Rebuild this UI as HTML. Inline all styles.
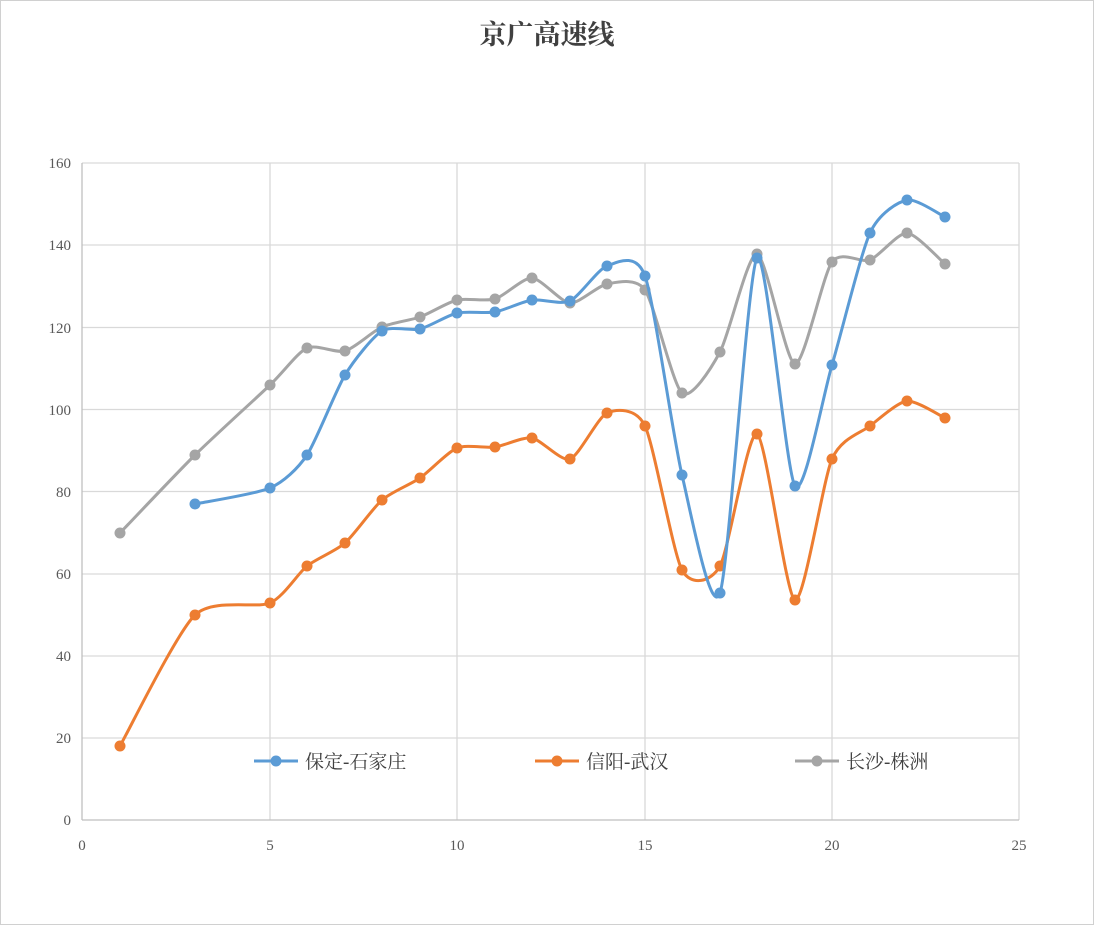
<!DOCTYPE html>
<html><head><meta charset="utf-8"><style>
html,body{margin:0;padding:0;background:#fff}
svg{display:block}
text{font-family:"Liberation Serif","Noto Serif CJK SC","Noto Sans CJK SC",serif}
</style></head><body>
<svg id="s" width="1094" height="925" viewBox="0 0 1094 925" xmlns="http://www.w3.org/2000/svg">
<rect x="0.5" y="0.5" width="1093" height="924" fill="#fff" stroke="#d0d0d0"/>
<text x="547" y="44" text-anchor="middle" font-size="27" font-weight="bold" fill="#404040">京广高速线</text>
<g stroke="#d9d9d9" stroke-width="1.3">
<line x1="82" y1="163" x2="1019" y2="163"/><line x1="82" y1="245" x2="1019" y2="245"/>
<line x1="82" y1="327.5" x2="1019" y2="327.5"/><line x1="82" y1="409.5" x2="1019" y2="409.5"/>
<line x1="82" y1="491.5" x2="1019" y2="491.5"/><line x1="82" y1="574" x2="1019" y2="574"/>
<line x1="82" y1="656" x2="1019" y2="656"/><line x1="82" y1="738" x2="1019" y2="738"/>
<line x1="270" y1="163" x2="270" y2="820"/><line x1="457" y1="163" x2="457" y2="820"/>
<line x1="645" y1="163" x2="645" y2="820"/><line x1="832" y1="163" x2="832" y2="820"/>
<line x1="1019" y1="163" x2="1019" y2="820"/>
</g>
<g stroke="#bfbfbf" stroke-width="1.3"><line x1="82" y1="163" x2="82" y2="820"/><line x1="82" y1="820" x2="1019" y2="820"/></g>
<g font-size="15" fill="#595959" text-anchor="end">
<text x="71" y="168">160</text><text x="71" y="250">140</text><text x="71" y="333">120</text>
<text x="71" y="415">100</text><text x="71" y="497">80</text><text x="71" y="579">60</text>
<text x="71" y="661">40</text><text x="71" y="743">20</text><text x="71" y="825">0</text>
</g>
<g font-size="15" fill="#595959" text-anchor="middle">
<text x="82" y="850">0</text><text x="270" y="850">5</text><text x="457" y="850">10</text>
<text x="645" y="850">15</text><text x="832" y="850">20</text><text x="1019" y="850">25</text>
</g>
<g id="series"></g>
<g font-size="19" fill="#404040">
<line x1="254" y1="761" x2="298" y2="761" stroke="#5b9bd5" stroke-width="3"/><circle cx="276" cy="761" r="5.5" fill="#5b9bd5"/>
<text x="305" y="768">保定-石家庄</text>
<line x1="535" y1="761" x2="579" y2="761" stroke="#ed7d31" stroke-width="3"/><circle cx="557" cy="761" r="5.5" fill="#ed7d31"/>
<text x="586" y="768">信阳-武汉</text>
<line x1="795" y1="761" x2="839" y2="761" stroke="#a5a5a5" stroke-width="3"/><circle cx="817" cy="761" r="5.5" fill="#a5a5a5"/>
<text x="846" y="768">长沙-株洲</text>
</g>
</svg>
<script>
var S=[
["#a5a5a5",[[120,533],[195,455],[270,385],[307,348],[345,351],[382,327],[420,317],[457,300],[495,299],[532,278],[570,303],[607,284],[645,290],[682,393],[720,352],[757,254],[795,364],[832,262],[870,260],[907,233],[945,264]]],
["#ed7d31",[[120,746],[195,615],[270,603],[307,566],[345,543],[382,500],[420,478],[457,448],[495,447],[532,438],[570,459],[607,413],[645,426],[682,570],[720,566],[757,434],[795,600],[832,459],[870,426],[907,401],[945,418]]],
["#5b9bd5",[[195,504],[270,488],[307,455],[345,375],[382,331],[420,329],[457,313],[495,312],[532,300],[570,301],[607,266],[645,276],[682,475],[720,593],[757,258],[795,486],[832,365],[870,233],[907,200],[945,217]]]
];
var g=document.getElementById('series'),ns="http://www.w3.org/2000/svg";
S.forEach(function(s){
 var p=s[1],d="M"+p[0][0]+","+p[0][1],t=0.12;
 for(var i=0;i<p.length-1;i++){
  var p0=p[i-1]||p[i],p1=p[i],p2=p[i+1],p3=p[i+2]||p2;
  var c1x=p1[0]+(p2[0]-p0[0])*t,c1y=p1[1]+(p2[1]-p0[1])*t;
  var c2x=p2[0]-(p3[0]-p1[0])*t,c2y=p2[1]-(p3[1]-p1[1])*t;
  d+=" C"+c1x+","+c1y+" "+c2x+","+c2y+" "+p2[0]+","+p2[1];
 }
 var pa=document.createElementNS(ns,"path");pa.setAttribute("d",d);pa.setAttribute("fill","none");
 pa.setAttribute("stroke",s[0]);pa.setAttribute("stroke-width","3");g.appendChild(pa);
 p.forEach(function(q){var c=document.createElementNS(ns,"circle");c.setAttribute("cx",q[0]);c.setAttribute("cy",q[1]);c.setAttribute("r","5.5");c.setAttribute("fill",s[0]);g.appendChild(c);});
});
</script>
</body></html>
